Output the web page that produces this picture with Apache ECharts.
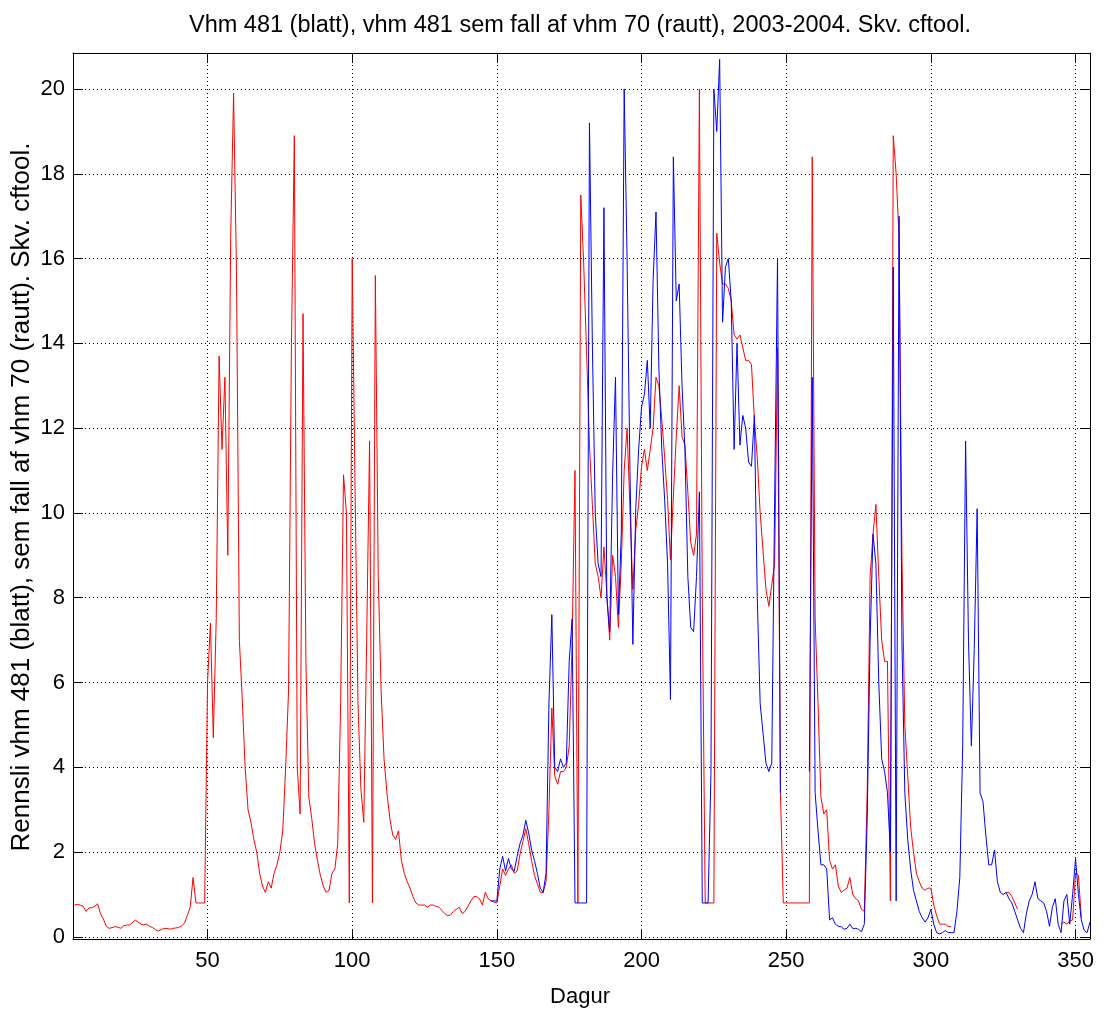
<!DOCTYPE html>
<html><head><meta charset="utf-8">
<script src="https://cdn.jsdelivr.net/npm/echarts@6/dist/echarts.min.js"></script>
<style>html,body{margin:0;padding:0;background:#fff}#c{width:1104px;height:1010px}</style>
</head><body><div id="c"></div>
<script>
const titleText = 'Vhm 481 (blatt), vhm 481 sem fall af vhm 70 (rautt), 2003-2004. Skv. cftool.';
const yLabelText = 'Rennsli vhm 481 (blatt), sem fall af vhm 70 (rautt). Skv. cftool.';
const xLabelText = 'Dagur';
const xTicks = [50, 100, 150, 200, 250, 300, 350];
const yTicks = [0, 2, 4, 6, 8, 10, 12, 14, 16, 18, 20];

// red: vhm 481 sem fall af vhm 70, one value per day from day 4
const redStartDay = 4;
const redFlow = [
  0.75,0.77,0.75,0.72,0.6,0.68,0.69,0.72,0.78,0.55,
  0.42,0.25,0.2,0.22,0.24,0.23,0.2,0.26,0.28,0.28,
  0.33,0.4,0.35,0.3,0.28,0.3,0.25,0.22,0.17,0.14,
  0.17,0.2,0.2,0.18,0.2,0.21,0.22,0.26,0.32,0.5,
  0.7,1.4,0.8,0.8,0.8,0.8,6.0,7.4,4.7,7.5,
  13.7,11.5,13.2,9.0,16.5,19.9,15.7,7.0,5.6,4.0,
  3.0,2.7,2.3,2.0,1.5,1.2,1.05,1.3,1.15,1.5,
  1.7,2.0,2.5,4.0,5.8,14.0,18.9,4.0,2.9,14.7,
  6.5,3.3,2.8,2.2,1.8,1.45,1.2,1.05,1.1,1.5,
  1.6,2.2,5.5,10.9,10.0,0.8,16.0,10.5,5.5,3.5,
  2.7,7.0,11.7,0.8,15.6,8.5,5.8,4.2,3.4,2.8,
  2.4,2.3,2.5,1.8,1.5,1.3,1.15,0.95,0.8,0.75,
  0.75,0.75,0.7,0.75,0.75,0.72,0.7,0.62,0.55,0.5,
  0.52,0.6,0.65,0.7,0.55,0.6,0.72,0.85,0.95,0.95,
  0.9,0.75,1.05,0.9,0.85,0.82,0.8,1.2,1.6,1.45,
  1.6,1.7,1.5,1.55,1.95,2.25,2.55,2.2,1.8,1.45,
  1.25,1.05,1.05,1.3,3.0,5.4,3.8,3.6,3.9,3.9,
  4.0,4.5,6.9,11.0,0.8,17.5,15.9,13.8,11.6,10.2,
  8.8,8.5,8.0,9.2,8.1,7.0,9.0,8.5,7.3,8.8,
  11.0,12.0,10.1,8.2,9.6,10.2,11.1,11.5,11.0,11.5,
  12.0,13.2,13.0,12.2,11.3,10.3,8.9,10.4,11.8,13.0,
  11.8,11.6,10.5,9.3,9.0,9.5,20.0,8.0,0.8,0.8,
  0.8,0.8,16.6,15.9,15.4,15.4,15.3,15.0,14.2,14.1,
  14.2,13.9,13.6,13.6,13.5,12.2,11.3,10.0,9.1,8.2,
  7.8,8.3,8.8,13.9,3.4,0.8,0.8,0.8,0.8,0.8,
  0.8,0.8,0.8,0.8,0.8,18.4,7.5,5.5,3.3,2.9,
  3.0,1.8,1.6,1.7,1.2,1.05,1.1,1.15,1.4,1.0,
  0.9,0.85,0.65,0.6,3.4,8.5,9.5,10.2,8.5,7.0,
  6.5,6.5,0.85,18.9,18.0,16.5,9.0,5.0,3.8,2.6,
  2.0,1.5,1.3,1.15,1.1,1.15,1.15,0.75,0.5,0.3,
  0.3,0.3,0.25,0.24,null,null,null,null,null,null,
  null,null,null,null,null,null,null,null,null,null,
  null,null,1.05,1.05,0.95,0.8,0.65,null,null,null,
  null,null,null,null,null,null,null,null,null,null,
  null,0.3,0.35,0.3,0.38,0.4,1.5,1.45,0.45
];

// blue: vhm 481, one value per day from day 148
const blueStartDay = 148;
const blueFlow = [
  0.85,0.85,0.85,1.6,1.9,1.55,1.85,1.6,1.55,1.9,
  2.2,2.4,2.75,2.45,2.05,1.8,1.5,1.15,1.05,1.5,
  5.5,7.6,4.0,3.9,4.2,4.0,4.1,6.5,7.5,0.8,
  0.8,0.8,0.8,0.8,19.2,14.0,10.0,8.8,8.5,17.2,
  8.0,7.2,10.9,13.2,7.6,9.5,20.0,16.0,11.0,6.9,
  10.1,11.5,12.5,12.8,13.6,12.0,15.5,17.1,13.4,11.5,
  10.3,8.8,5.6,18.4,15.0,15.4,13.0,11.5,8.5,7.3,
  7.2,8.5,10.5,0.8,0.8,0.8,3.9,20.0,19.0,20.7,
  14.5,15.8,16.0,15.0,11.5,14.0,11.6,12.3,12.0,11.2,
  11.1,12.3,8.0,5.5,4.8,4.1,3.9,4.1,10.3,16.0,
  3.4,null,null,null,null,null,null,null,null,null,
  3.9,13.2,3.4,2.5,1.7,1.7,1.6,0.4,0.45,0.3,
  0.25,0.24,0.18,0.2,0.3,0.2,0.2,0.18,0.12,0.3,
  2.8,7.0,9.5,8.8,6.0,4.2,3.9,3.4,2.0,15.8,
  0.85,17.0,7.0,3.4,2.3,1.6,1.1,0.85,0.6,0.45,
  0.35,0.45,0.65,0.3,0.1,0.07,0.1,0.15,0.1,0.1,
  0.1,0.6,1.4,4.5,11.7,7.0,4.5,6.8,10.1,3.4,
  3.2,2.4,1.7,1.7,2.05,1.3,1.05,1.0,1.05,0.9,
  0.8,0.6,0.4,0.2,0.1,0.55,0.85,1.0,1.3,0.9,
  0.85,0.8,0.6,0.25,0.7,0.9,0.3,0.1,0.85,1.0,
  0.3,1.0,1.85,1.0,0.4,0.15,0.1,0.35
];

const FONT = '"Liberation Sans", Arial, Helvetica, sans-serif';
const toPairs = (start, arr) => arr.map((v, i) => [start + i, v]);

const chart = echarts.init(document.getElementById('c'), null, {renderer: 'canvas'});

const tickStyle = {show: true, inside: true, length: 10, lineStyle: {color: '#000', width: 1}};
const lineAxis = {show: true, onZero: false, lineStyle: {color: '#000', width: 1}};
const gridDots = {show: true, lineStyle: {color: '#000', width: 1, type: [1, 3]}};

const option = {
  animation: false,
  backgroundColor: '#fff',
  grid: {left: 73, right: 14, top: 53, bottom: 71, containLabel: false},
  xAxis: [
    {
      type: 'value', position: 'bottom', min: 3.5, max: 355,
      minInterval: 50, maxInterval: 50,
      axisLine: lineAxis, axisTick: tickStyle,
      axisLabel: {color: '#000', fontSize: 22, fontFamily: FONT, margin: 11,
        formatter: v => xTicks.includes(v) ? String(v) : ''},
      splitLine: gridDots
    },
    {
      type: 'value', position: 'top', min: 3.5, max: 355,
      minInterval: 50, maxInterval: 50,
      axisLine: lineAxis, axisTick: tickStyle,
      axisLabel: {show: false}, splitLine: {show: false}
    }
  ],
  yAxis: [
    {
      type: 'value', position: 'left', min: -0.05, max: 20.85,
      minInterval: 2, maxInterval: 2,
      axisLine: lineAxis, axisTick: tickStyle,
      axisLabel: {color: '#000', fontSize: 22, fontFamily: FONT, margin: 8,
        formatter: v => yTicks.includes(v) ? String(v) : ''},
      splitLine: gridDots
    },
    {
      type: 'value', position: 'right', min: -0.05, max: 20.85,
      minInterval: 2, maxInterval: 2,
      axisLine: lineAxis, axisTick: tickStyle,
      axisLabel: {show: false}, splitLine: {show: false}
    }
  ],
  graphic: [
    {type: 'text', x: 580, y: 26,
      style: {text: titleText, textAlign: 'center', textVerticalAlign: 'middle',
        font: '23.5px ' + FONT, fill: '#000'}},
    {type: 'text', x: 580, y: 997,
      style: {text: xLabelText, textAlign: 'center', textVerticalAlign: 'middle',
        font: '22px ' + FONT, fill: '#000'}},
    {type: 'text', x: 22, y: 497, rotation: Math.PI / 2,
      style: {text: yLabelText, textAlign: 'center', textVerticalAlign: 'middle',
        font: '26px ' + FONT, fill: '#000'}}
  ],
  series: [
    {
      name: 'rautt', type: 'line', xAxisIndex: 0, yAxisIndex: 0,
      data: toPairs(redStartDay, redFlow),
      showSymbol: false, symbol: 'none', connectNulls: false,
      lineStyle: {color: '#ff0000', width: 1}, z: 3
    },
    {
      name: 'blatt', type: 'line', xAxisIndex: 0, yAxisIndex: 0,
      data: toPairs(blueStartDay, blueFlow),
      showSymbol: false, symbol: 'none', connectNulls: false,
      lineStyle: {color: '#0000ff', width: 1}, z: 4
    }
  ]
};
chart.setOption(option);
</script>
</body></html>
